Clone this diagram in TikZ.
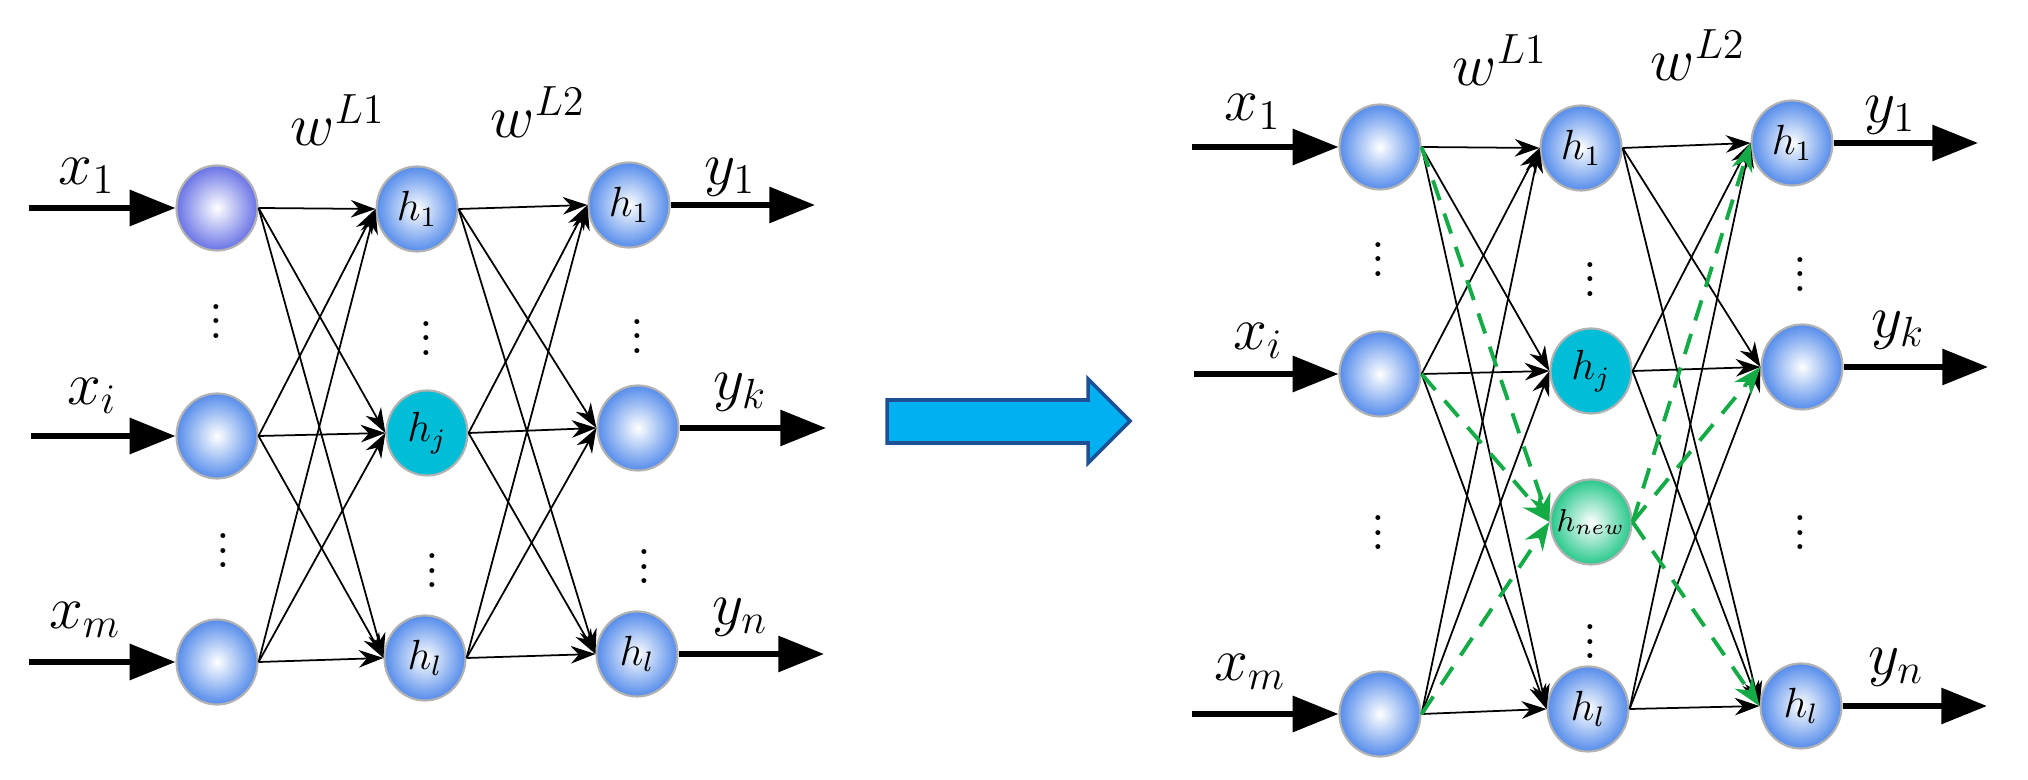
\documentclass[tikz,border=0pt]{standalone}
\usepackage{amsmath}
\usepackage{tikz}
\usetikzlibrary{arrows.meta,shapes.geometric}

\tikzset{
  neuron/.style={ellipse, draw=gray!60, line width=0.6pt, minimum width=0.81cm, minimum height=0.85cm, inner sep=0pt,
    inner color=white, outer color=nblue, font=\large},
  link/.style={-{Stealth[length=7pt,width=5pt]}, line width=0.5pt},
  newlink/.style={-{Stealth[length=8pt,width=6pt]}, dashed, dash pattern=on 6pt off 4pt, line width=1.1pt, color=ngreen},
  io/.style={-{Triangle[length=13pt,width=10pt]}, line width=1.6pt},
  lab/.style={font=\LARGE},
  wlab/.style={font=\LARGE},
  vdots/.style={font=\Large}
}
\definecolor{nblue}{RGB}{85,140,235}
\definecolor{npurple}{RGB}{105,115,230}
\definecolor{ncyan}{RGB}{0,190,215}
\definecolor{ngreen}{RGB}{20,170,70}
\definecolor{ngreenfill}{RGB}{40,200,140}
\definecolor{arrowfill}{RGB}{0,176,240}
\definecolor{arrowdraw}{RGB}{30,80,150}

\begin{document}
\begin{tikzpicture}[x=0.01cm,y=-0.01cm]
\useasboundingbox (0,0) rectangle (2028,780);

% left network
\node[neuron, outer color=npurple] (a1) at (217,208) {};
\node[neuron] (ai) at (217,436) {};
\node[neuron] (am) at (217,662) {};
\node[neuron] (b1) at (417,209) {$h_1$};
\node[neuron, inner color=ncyan, outer color=ncyan] (bj) at (427,433) {$h_j$};
\node[neuron] (bl) at (425,658) {$h_l$};
\node[neuron] (c1) at (629,205) {$h_1$};
\node[neuron] (ck) at (638,428) {};
\node[neuron] (cn) at (637,654) {$h_l$};

\foreach \s in {a1,ai,am}
  \foreach \t in {b1,bj,bl}
    \draw[link] (\s.east) -- (\t.west);
\foreach \s in {b1,bj,bl}
  \foreach \t in {c1,ck,cn}
    \draw[link] (\s.east) -- (\t.west);

\coordinate (ia1) at (29,208);
\coordinate (iai) at (31,436);
\coordinate (iam) at (29,662);
\draw[io] (ia1) -- (a1.west);
\draw[io] (iai) -- (ai.west);
\draw[io] (iam) -- (am.west);
\coordinate (oc1) at (815,205);
\coordinate (ock) at (826,428);
\coordinate (ocn) at (824,654);
\draw[io] (c1.east) -- (oc1);
\draw[io] (ck.east) -- (ock);
\draw[io] (cn.east) -- (ocn);

\node[lab] at (87,176) {$x_1$};
\node[lab] at (92,396) {$x_i$};
\node[lab] at (85,620) {$x_m$};
\node[lab] at (730,177) {$y_1$};
\node[lab] at (740,392) {$y_k$};
\node[lab] at (740,617) {$y_n$};
\node[wlab] at (338,120) {$w^{L1}$};
\node[wlab] at (538,112) {$w^{L2}$};

\node[vdots] at (216,311) {$\vdots$};
\node[vdots] at (223,540) {$\vdots$};
\node[vdots] at (426,328) {$\vdots$};
\node[vdots] at (432,560) {$\vdots$};
\node[vdots] at (637,326) {$\vdots$};
\node[vdots] at (644,556) {$\vdots$};

% transition arrow
\draw[draw=arrowdraw, fill=arrowfill, line width=1pt]
  (887,400) -- (1088,400) -- (1088,379) -- (1130,421) -- (1088,463) -- (1088,443) -- (887,443) -- cycle;

% right network
\node[neuron] (p1) at (1380,147) {};
\node[neuron] (pi) at (1380,374) {};
\node[neuron] (pm) at (1380,714) {};
\node[neuron] (q1) at (1581,148) {$h_1$};
\node[neuron, inner color=ncyan, outer color=ncyan] (qj) at (1591,371) {$h_j$};
\node[neuron, inner color=white, outer color=ngreenfill, font=\small, inner sep=-3pt] (qn) at (1591,522) {$h_{new}$};
\node[neuron] (ql) at (1588,709) {$h_l$};
\node[neuron] (r1) at (1792,143) {$h_1$};
\node[neuron] (rk) at (1802,367) {};
\node[neuron] (rn) at (1801,706) {$h_l$};

\foreach \s in {p1,pi,pm}
  \foreach \t in {q1,qj,ql}
    \draw[link] (\s.east) -- (\t.west);
\foreach \s in {q1,qj,ql}
  \foreach \t in {r1,rk,rn}
    \draw[link] (\s.east) -- (\t.west);
\foreach \s in {p1,pi,pm}
  \draw[newlink] (\s.east) -- (qn.west);
\foreach \t in {r1,rk,rn}
  \draw[newlink] (qn.east) -- (\t.west);

\coordinate (ip1) at (1192,147);
\coordinate (ipi) at (1194,374);
\coordinate (ipm) at (1192,714);
\draw[io] (ip1) -- (p1.west);
\draw[io] (ipi) -- (pi.west);
\draw[io] (ipm) -- (pm.west);
\coordinate (or1) at (1978,143);
\coordinate (ork) at (1988,367);
\coordinate (orn) at (1987,706);
\draw[io] (r1.east) -- (or1);
\draw[io] (rk.east) -- (ork);
\draw[io] (rn.east) -- (orn);

\node[lab] at (1253,112) {$x_1$};
\node[lab] at (1258,341) {$x_i$};
\node[lab] at (1250,672) {$x_m$};
\node[lab] at (1890,115) {$y_1$};
\node[lab] at (1898,330) {$y_k$};
\node[lab] at (1896,667) {$y_n$};
\node[wlab] at (1500,60) {$w^{L1}$};
\node[wlab] at (1698,55) {$w^{L2}$};

\node[vdots] at (1378,249) {$\vdots$};
\node[vdots] at (1378,522) {$\vdots$};
\node[vdots] at (1590,269) {$\vdots$};
\node[vdots] at (1590,631) {$\vdots$};
\node[vdots] at (1800,264) {$\vdots$};
\node[vdots] at (1800,522) {$\vdots$};
\end{tikzpicture}
\end{document}
